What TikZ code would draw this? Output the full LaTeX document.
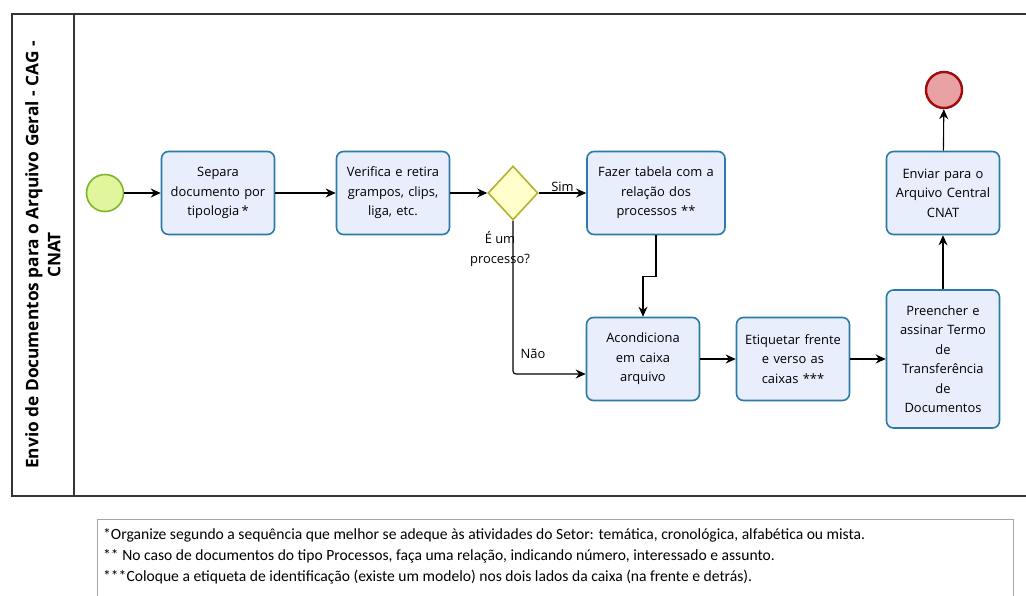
\documentclass[tikz,border=0pt]{standalone}
\usepackage{fontspec}
\setmainfont{Open Sans}
\newfontfamily\notafont{Carlito}
\usetikzlibrary{shapes.geometric,arrows.meta}

\definecolor{tarefaborda}{HTML}{2B7BA8}
\definecolor{tarefafundo}{HTML}{E9EEFC}
\definecolor{inicioborda}{HTML}{7DB52C}
\definecolor{iniciofundo}{HTML}{E0F59C}
\definecolor{fimborda}{HTML}{A30A0A}
\definecolor{fimfundo}{HTML}{E8A2A4}
\definecolor{decborda}{HTML}{B3B32E}
\definecolor{decfundo}{HTML}{FFFFCC}
\definecolor{raia}{HTML}{333333}

\tikzset{
  tarefa/.style={draw=tarefaborda, fill=tarefafundo, line width=1.6pt,
    rounded corners=7pt, align=center, inner sep=0pt,
    minimum width=113pt, minimum height=83pt, text width=111pt,
    font=\fontsize{12.9}{19.5}\selectfont},
  fluxo/.style={-{Stealth[length=10pt,width=9pt]}, line width=1.1pt},
  rotulo/.style={font=\fontsize{12.9}{19.5}\selectfont, inner sep=0pt, align=center},
}

\begin{document}
\begin{tikzpicture}[x=1pt,y=-1pt]
\useasboundingbox (0,0) rectangle (1026,595);
\begin{scope}
    %——————————————————————————————————————————————
    % Raia (pool) e titulo vertical
    %——————————————————————————————————————————————
    \draw[raia, line width=1.2pt] (1030,14) -- (12,14) -- (12,496) -- (1030,496);
    \draw[raia, line width=1.2pt] (74,14) -- (74,496);
    \node[rotate=90, align=center, font=\bfseries\fontsize{17.3}{22}\selectfont]
      (titulo) at (43,255) {Envio de Documentos para o Arquivo Geral - CAG -\\CNAT};

    %——————————————————————————————————————————————
    % Eventos de inicio e fim
    %——————————————————————————————————————————————
    \node[circle, draw=inicioborda, fill=iniciofundo, line width=1.6pt,
      minimum size=37pt, inner sep=0pt] (inicio) at (105,193) {};
    \node[circle, draw=fimborda, fill=fimfundo, line width=2.4pt,
      minimum size=36pt, inner sep=0pt] (fim) at (944,90) {};

    %——————————————————————————————————————————————
    % Tarefas
    %——————————————————————————————————————————————
    \node[tarefa] (separa) at (218,193) {Separa\\documento por\\tipologia\,*};
    \node[tarefa] (verifica) at (393,193) {Verifica e retira\\grampos, clips,\\liga, etc.};
    \node[tarefa, minimum width=138pt, text width=134pt] (tabela) at (656,193)
      {Fazer tabela com a\\relação dos\\processos **};
    \node[tarefa] (acond) at (643,359) {Acondiciona\\em caixa\\arquivo};
    \node[tarefa] (etiqueta) at (793,359) {Etiquetar frente\\e verso as\\caixas ***};
    \node[tarefa, minimum height=138pt] (termo) at (943,359)
      {Preencher e\\assinar Termo\\de\\Transferência\\de\\Documentos};
    \node[tarefa] (enviar) at (943,193) {Enviar para o\\Arquivo Central\\CNAT};

    %——————————————————————————————————————————————
    % Decisao
    %——————————————————————————————————————————————
    \node[diamond, draw=decborda, fill=decfundo, line width=1.6pt,
      minimum width=50pt, minimum height=54pt, inner sep=0pt] (dec) at (513,193) {};
    \node[rotulo] (pergunta) at (500,249) {É um\\processo?};

    %——————————————————————————————————————————————
    % Fluxos de sequencia
    %——————————————————————————————————————————————
    \draw[fluxo] (inicio) -- (separa);
    \draw[fluxo] (separa) -- (verifica);
    \draw[fluxo] (verifica) -- (dec);
    \draw[fluxo] (dec) -- node[rotulo, above, yshift=1pt] {Sim} (tabela);
    \draw[fluxo] (tabela.south) -- ++(0,41) -| (acond.north);
    \draw[fluxo, rounded corners=3pt] (dec.south) |- ([yshift=-15pt]acond.west);
    \node[rotulo] (nao) at (533,354) {Não};
    \draw[fluxo] (acond) -- (etiqueta);
    \draw[fluxo] (etiqueta) -- (termo);
    \draw[fluxo] (termo) -- (enviar);
    \draw[fluxo] (enviar) -- (fim);

    %——————————————————————————————————————————————
    % Notas de rodape
    %——————————————————————————————————————————————
    \draw[gray!70, line width=1pt] (97,605) -- (97,519) -- (1013,519) -- (1013,605);
    \begin{scope}[every node/.style={anchor=west, inner sep=0pt,
        font=\notafont\fontsize{15.6}{18}\selectfont}]
      \node (nota1) at (103,535) {*Organize segundo a sequência que melhor se adeque às atividades do Setor: temática, cronológica, alfabética ou mista.};
      \node (nota2) at (103,556) {** No caso de documentos do tipo Processos, faça uma relação, indicando número, interessado e assunto.};
      \node (nota3) at (103,577) {***Coloque a etiqueta de identificação (existe um modelo) nos dois lados da caixa (na frente e detrás).};
    \end{scope}
\end{scope}
\end{tikzpicture}
\end{document}
